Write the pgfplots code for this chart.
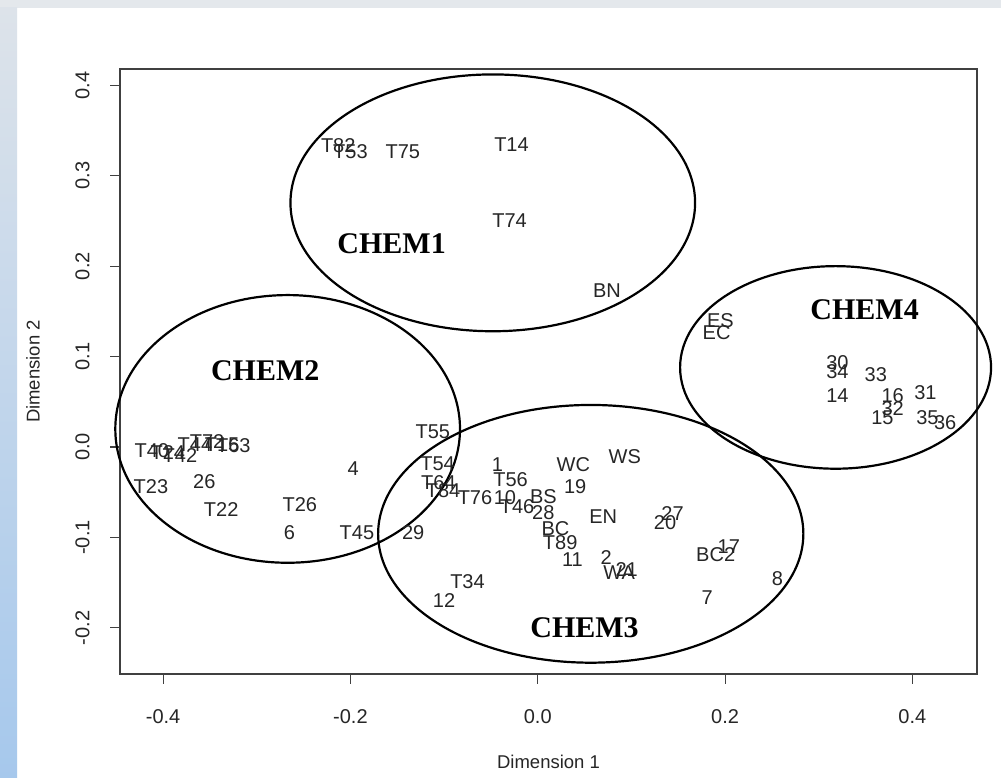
\documentclass[border=0pt]{standalone}
\usepackage{pgfplots}
\pgfplotsset{compat=1.18}
\usepackage{fontspec}
\setmainfont{Liberation Sans}
\newfontfamily\serifbold{Liberation Serif}[BoldFont={* Bold}]
\definecolor{topstrip}{RGB}{228,232,236}
\definecolor{leftA}{RGB}{221,227,234}
\definecolor{leftB}{RGB}{166,200,236}
\pgfplotstableread{
x y label
-0.213 0.333 T82
-0.200 0.327 T53
-0.144 0.327 T75
-0.028 0.334 T14
-0.030 0.250 T74
0.074 0.173 BN
-0.412 -0.004 T40
-0.395 -0.006 T24
-0.382 -0.009 T42
-0.366 0.003 T44
-0.353 0.006 T72
-0.337 0.002 T15
-0.325 0.002 T63
-0.356 -0.038 26
-0.413 -0.044 T23
-0.338 -0.069 T22
-0.197 -0.024 4
-0.254 -0.064 T26
-0.265 -0.095 6
-0.193 -0.095 T45
-0.112 0.017 T55
-0.107 -0.018 T54
-0.106 -0.039 T64
-0.101 -0.048 T84
-0.067 -0.056 T76
-0.043 -0.020 1
-0.029 -0.036 T56
-0.035 -0.056 10
-0.022 -0.066 T46
0.006 -0.055 BS
0.006 -0.072 28
0.038 -0.020 WC
0.093 -0.011 WS
0.040 -0.044 19
0.070 -0.077 EN
0.019 -0.090 BC
0.024 -0.106 T89
0.037 -0.125 11
0.073 -0.122 2
0.087 -0.139 WA
0.095 -0.135 21
-0.133 -0.095 29
-0.075 -0.149 T34
-0.100 -0.170 12
0.144 -0.073 27
0.136 -0.084 20
0.190 -0.119 BC2
0.204 -0.110 17
0.256 -0.145 8
0.181 -0.167 7
0.195 0.140 ES
0.191 0.127 EC
0.320 0.093 30
0.320 0.083 34
0.361 0.080 33
0.320 0.057 14
0.379 0.057 16
0.414 0.060 31
0.379 0.043 32
0.368 0.032 15
0.416 0.032 35
0.435 0.027 36
}\pts
\pgfplotstableread{
x y label
-0.156 0.225 CHEM1
-0.291 0.084 CHEM2
0.050 -0.200 CHEM3
0.349 0.152 CHEM4
}\groups
\begin{document}
\begin{tikzpicture}[x=1pt,y=1pt]
\fill[white] (0,0) rectangle (1001,778);
\fill[topstrip] (0,770) rectangle (1001,778);
\shade[top color=leftA, bottom color=leftB] (0,0) rectangle (17,770);
\begin{axis}[
  at={(120pt,104pt)}, anchor=south west,
  scale only axis, width=857pt, height=605pt,
  xmin=-0.446, xmax=0.469, ymin=-0.251, ymax=0.418,
  clip=false,
  axis line style={black!75, line width=1.1pt},
  xtick={-0.4,-0.2,0,0.2,0.4},
  xticklabels={-0.4,-0.2,0.0,0.2,0.4},
  ytick={-0.2,-0.1,0,0.1,0.2,0.3,0.4},
  yticklabels={-0.2,-0.1,0.0,0.1,0.2,0.3,0.4},
  xtick pos=bottom, ytick pos=left,
  tick align=outside, major tick length=10pt,
  tick style={black!75, line width=1.1pt},
  ticklabel style={font=\fontsize{20}{20}\selectfont, text=black!85},
  xticklabel style={yshift=-22pt},
  yticklabel style={rotate=90, anchor=south, xshift=0pt, yshift=17pt},
  xlabel={Dimension 1}, ylabel={Dimension 2},
  label style={font=\fontsize{18.5}{18.5}\selectfont, text=black!85},
  xlabel style={at={(axis description cs:0.5,-0.1455)}, anchor=center},
  ylabel style={at={(axis description cs:-0.1015,0.5)}, anchor=center},
]
\addplot[only marks, mark=none, nodes near coords, point meta=explicit symbolic,
  nodes near coords style={anchor=center, inner sep=0pt, font=\fontsize{20}{20}\selectfont, text=black!85}]
  table[meta=label] {\pts};
\addplot[only marks, mark=none, nodes near coords, point meta=explicit symbolic,
  nodes near coords style={anchor=center, inner sep=0pt, font=\serifbold\bfseries\fontsize{30}{30}\selectfont, text=black}]
  table[meta=label] {\groups};
\draw[black, line width=2.2pt] (axis cs:-0.048,0.270) ellipse [x radius=0.216, y radius=0.142];
\draw[black, line width=2.2pt] (axis cs:-0.267,0.020) ellipse [x radius=0.184, y radius=0.148];
\draw[black, line width=2.2pt] (axis cs:0.0566,-0.096) ellipse [x radius=0.227, y radius=0.1425];
\draw[black, line width=2.2pt] (axis cs:0.318,0.088) ellipse [x radius=0.166, y radius=0.112];
\end{axis}
\end{tikzpicture}
\end{document}
